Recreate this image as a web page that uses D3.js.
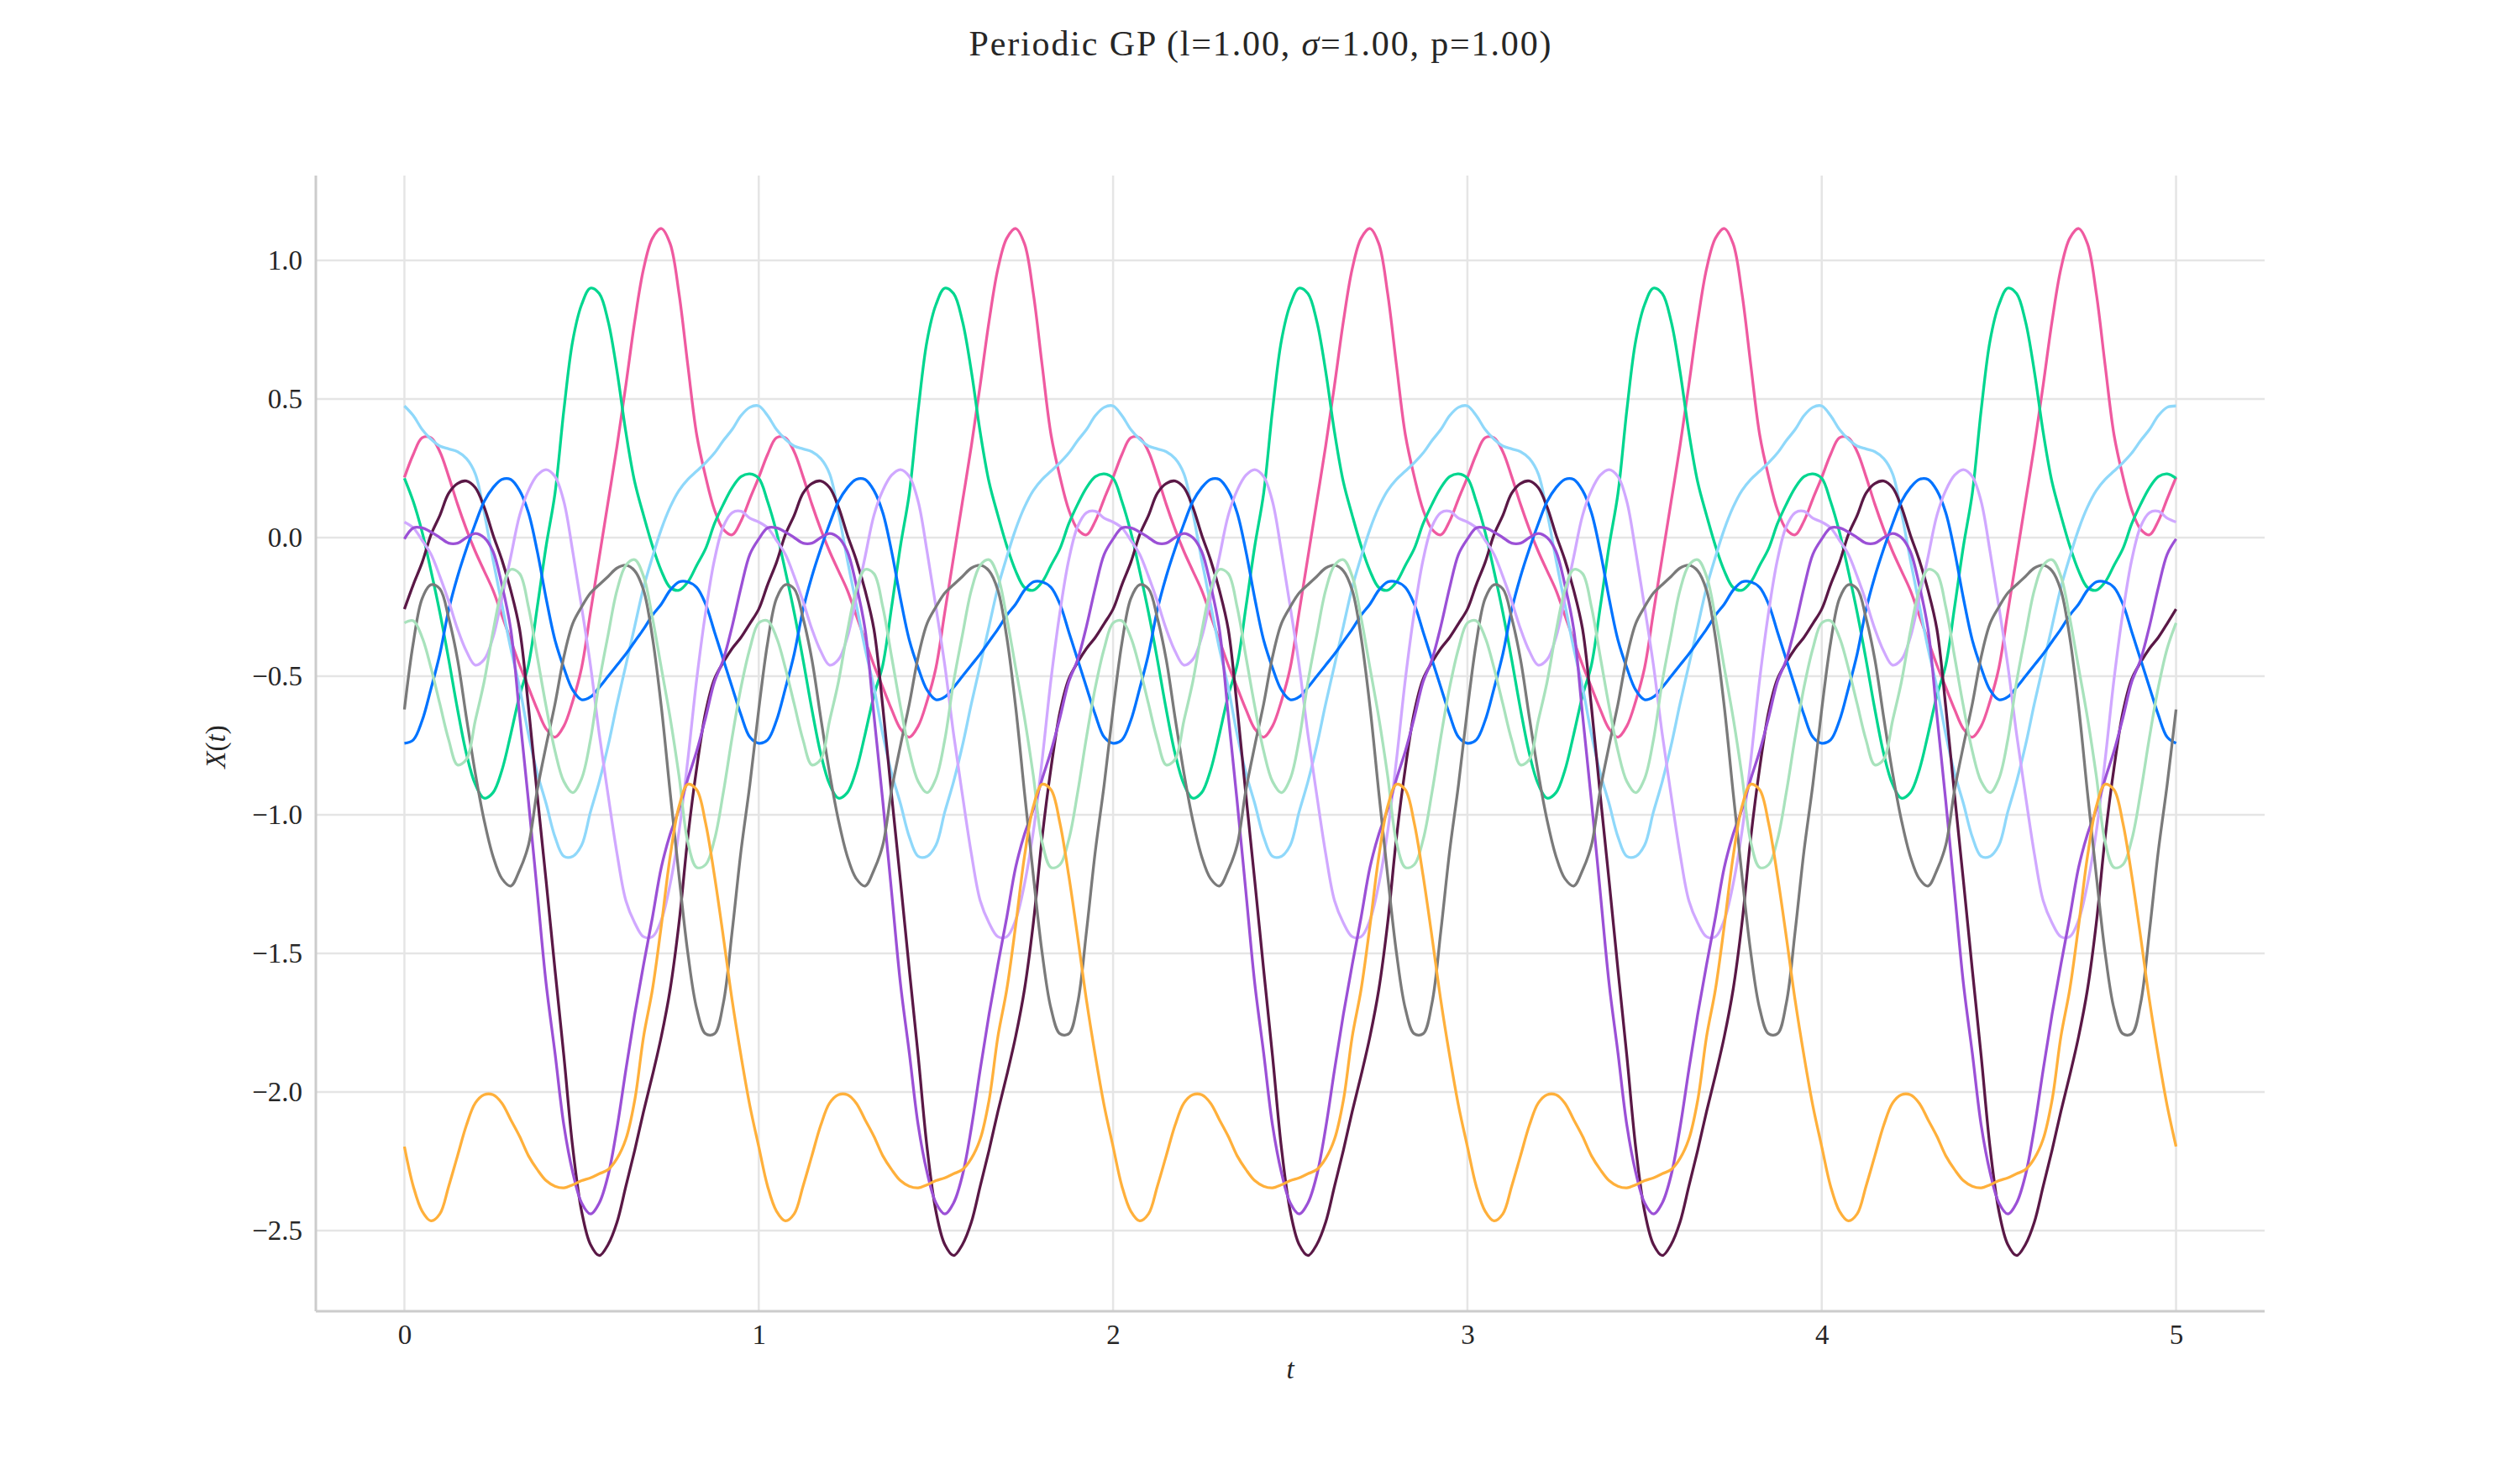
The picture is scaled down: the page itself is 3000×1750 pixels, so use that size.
<!DOCTYPE html>
<html><head><meta charset="utf-8">
<script src="https://cdn.jsdelivr.net/npm/d3@7"></script>
<style>
body{margin:0;background:#fff}
svg{display:block}
text{font-family:"Liberation Serif","DejaVu Serif",serif;fill:#262626}
</style>
</head><body>
<svg id="chart" width="3000" height="1750"></svg>
<script>
const periodStarts = [0, 1, 2, 3, 4];
const sampleStep = 0.025;
const xTicks = [0, 1, 2, 3, 4, 5];
const yTicks = [-2.5, -2.0, -1.5, -1.0, -0.5, 0.0, 0.5, 1.0];

const seriesColors = ["#ef5aa0", "#00d68f", "#8fd8fa", "#5a1846", "#0073ff", "#d0a8ff", "#9b50d6", "#7a7a7a", "#a8e2bc", "#ffb03b"];

const pinkValues = [0.217, 0.30, 0.36, 0.36, 0.31, 0.22, 0.12, 0.03, -0.05, -0.12, -0.19, -0.28, -0.37, -0.46, -0.54, -0.62, -0.69, -0.72, -0.68, -0.59, -0.47, -0.27, -0.07, 0.13, 0.33, 0.55, 0.78, 0.97, 1.08, 1.115, 1.06, 0.88, 0.62, 0.37, 0.22, 0.10, 0.03, 0.01, 0.06, 0.14];
const greenValues = [0.214, 0.13, 0.02, -0.12, -0.27, -0.44, -0.62, -0.78, -0.89, -0.94, -0.92, -0.84, -0.71, -0.57, -0.46, -0.25, -0.03, 0.16, 0.46, 0.71, 0.84, 0.90, 0.88, 0.78, 0.60, 0.38, 0.20, 0.08, -0.03, -0.12, -0.18, -0.19, -0.16, -0.10, -0.04, 0.05, 0.12, 0.18, 0.22, 0.23];
const lightBlueValues = [0.475, 0.44, 0.39, 0.355, 0.33, 0.32, 0.31, 0.285, 0.23, 0.09, -0.08, -0.24, -0.40, -0.54, -0.71, -0.85, -0.96, -1.08, -1.15, -1.15, -1.11, -0.99, -0.88, -0.75, -0.60, -0.46, -0.32, -0.18, -0.07, 0.03, 0.11, 0.17, 0.21, 0.24, 0.27, 0.305, 0.35, 0.39, 0.44, 0.47];
const maroonValues = [-0.258, -0.17, -0.09, 0.01, 0.08, 0.16, 0.195, 0.204, 0.18, 0.11, 0.01, -0.08, -0.19, -0.33, -0.61, -0.93, -1.24, -1.56, -1.87, -2.20, -2.43, -2.55, -2.59, -2.55, -2.47, -2.34, -2.21, -2.07, -1.94, -1.80, -1.63, -1.39, -1.08, -0.83, -0.63, -0.51, -0.45, -0.40, -0.36, -0.31];
const blueValues = [-0.742, -0.73, -0.66, -0.545, -0.42, -0.26, -0.14, -0.04, 0.05, 0.13, 0.18, 0.21, 0.21, 0.17, 0.09, -0.05, -0.22, -0.37, -0.47, -0.55, -0.585, -0.575, -0.54, -0.50, -0.46, -0.42, -0.375, -0.33, -0.28, -0.24, -0.19, -0.16, -0.16, -0.18, -0.24, -0.34, -0.44, -0.54, -0.64, -0.72];
const lavenderValues = [0.056, 0.035, -0.01, -0.06, -0.14, -0.23, -0.33, -0.41, -0.46, -0.44, -0.36, -0.22, -0.07, 0.08, 0.17, 0.225, 0.245, 0.22, 0.13, -0.05, -0.25, -0.46, -0.71, -0.93, -1.14, -1.31, -1.39, -1.44, -1.44, -1.38, -1.25, -1.06, -0.80, -0.51, -0.27, -0.08, 0.04, 0.09, 0.095, 0.07];
const purpleValues = [-0.005, 0.035, 0.035, 0.02, 0.0, -0.02, -0.02, 0.0, 0.015, 0.0, -0.05, -0.17, -0.33, -0.64, -0.95, -1.28, -1.61, -1.86, -2.12, -2.29, -2.40, -2.44, -2.40, -2.30, -2.13, -1.92, -1.72, -1.54, -1.37, -1.19, -1.07, -0.98, -0.87, -0.77, -0.65, -0.52, -0.44, -0.32, -0.18, -0.06];
const grayValues = [-0.62, -0.38, -0.22, -0.17, -0.185, -0.29, -0.44, -0.65, -0.85, -1.02, -1.15, -1.23, -1.257, -1.20, -1.11, -0.91, -0.75, -0.60, -0.43, -0.31, -0.25, -0.20, -0.17, -0.14, -0.11, -0.10, -0.12, -0.19, -0.36, -0.61, -0.92, -1.22, -1.50, -1.70, -1.79, -1.79, -1.68, -1.42, -1.13, -0.89];
const paleGreenValues = [-0.308, -0.30, -0.36, -0.47, -0.60, -0.73, -0.82, -0.80, -0.66, -0.52, -0.34, -0.19, -0.115, -0.13, -0.25, -0.43, -0.61, -0.77, -0.88, -0.92, -0.87, -0.73, -0.52, -0.35, -0.19, -0.10, -0.08, -0.14, -0.29, -0.47, -0.65, -0.86, -1.10, -1.19, -1.18, -1.09, -0.92, -0.72, -0.54, -0.40];
const orangeValues = [-2.197, -2.34, -2.43, -2.465, -2.44, -2.34, -2.23, -2.12, -2.04, -2.01, -2.01, -2.04, -2.10, -2.16, -2.23, -2.28, -2.32, -2.34, -2.346, -2.335, -2.32, -2.31, -2.295, -2.28, -2.24, -2.17, -2.03, -1.80, -1.63, -1.40, -1.15, -0.97, -0.89, -0.91, -1.03, -1.22, -1.44, -1.67, -1.87, -2.05];

const seriesValues = [pinkValues, greenValues, lightBlueValues, maroonValues, blueValues, lavenderValues, purpleValues, grayValues, paleGreenValues, orangeValues];

// ---- layout ----
const plotLeft = 376, plotRight = 2696, plotTop = 209, plotBottom = 1561;
const svg = d3.select("#chart");

const x = d3.scaleLinear().domain([-0.25, 5.25]).range([plotLeft, plotRight]);
const y = d3.scaleLinear().domain([-2.791, 1.306]).range([plotBottom, plotTop]);

// grid
const grid = svg.append("g");
grid.selectAll("line.gx").data(xTicks).join("line").attr("class", "gx")
  .attr("x1", d => x(d)).attr("x2", d => x(d)).attr("y1", plotTop).attr("y2", plotBottom)
  .attr("stroke", "#e5e5e5").attr("stroke-width", 2.5);
grid.selectAll("line.gy").data(yTicks).join("line").attr("class", "gy")
  .attr("x1", plotLeft).attr("x2", plotRight).attr("y1", d => y(d)).attr("y2", d => y(d))
  .attr("stroke", "#e5e5e5").attr("stroke-width", 2.5);

// axes via d3 axis generators (no tick marks, labels only)
const fmtY = d => d3.format(".1f")(d).replace("-", "\u2212");
const xAxis = svg.append("g").attr("transform", `translate(0,${plotBottom})`)
  .call(d3.axisBottom(x).tickValues(xTicks).tickSize(0).tickPadding(39).tickFormat(d3.format("d")));
const yAxis = svg.append("g").attr("transform", `translate(${plotLeft},0)`)
  .call(d3.axisLeft(y).tickValues(yTicks).tickSize(0).tickPadding(16).tickFormat(fmtY));
[xAxis, yAxis].forEach(a => {
  a.select(".domain").remove();
  a.selectAll("text").attr("font-size", 33).attr("font-family", "Liberation Serif").attr("fill", "#262626");
});
xAxis.selectAll("text").attr("dy", 0);
yAxis.selectAll("text").attr("dy", "0.33em");

// spines
svg.append("line").attr("x1", plotLeft).attr("x2", plotLeft).attr("y1", plotTop).attr("y2", plotBottom)
  .attr("stroke", "#cccccc").attr("stroke-width", 3);
svg.append("line").attr("x1", plotLeft).attr("x2", plotRight).attr("y1", plotBottom).attr("y2", plotBottom)
  .attr("stroke", "#cccccc").attr("stroke-width", 3);

// series: tile the single observed period over the five periods
const line = d3.line().x(d => x(d.t)).y(d => y(d.v)).curve(d3.curveCatmullRom.alpha(0.5));
const series = seriesValues.map((vals, i) => {
  const pts = [];
  periodStarts.forEach(p => vals.forEach((v, k) => pts.push({t: p + k * sampleStep, v})));
  pts.push({t: 5, v: vals[0]});
  return {color: seriesColors[i], pts};
});
svg.append("g").selectAll("path").data(series).join("path")
  .attr("d", d => line(d.pts))
  .attr("fill", "none").attr("stroke", d => d.color).attr("stroke-width", 3.3)
  .attr("stroke-linejoin", "round").attr("stroke-linecap", "butt");

// title
const tt = svg.append("text").attr("x", 1500).attr("y", 66).attr("text-anchor", "middle")
  .attr("font-size", 42).attr("textLength", 693).attr("lengthAdjust", "spacing");
tt.append("tspan").text("Periodic GP (l=1.00, ");
tt.append("tspan").attr("font-style", "italic").text("\u03c3");
tt.append("tspan").text("=1.00, p=1.00)");

// axis labels
svg.append("text").attr("x", (plotLeft + plotRight) / 2).attr("y", 1641).attr("text-anchor", "middle")
  .attr("font-size", 33).attr("font-style", "italic").text("t");
const yl = svg.append("text").attr("transform", `translate(268,${(plotTop + plotBottom) / 2 + 4}) rotate(-90)`)
  .attr("text-anchor", "middle").attr("font-size", 33);
yl.append("tspan").attr("font-style", "italic").text("X");
yl.append("tspan").text("(");
yl.append("tspan").attr("font-style", "italic").text("t");
yl.append("tspan").text(")");
</script>
</body></html>
